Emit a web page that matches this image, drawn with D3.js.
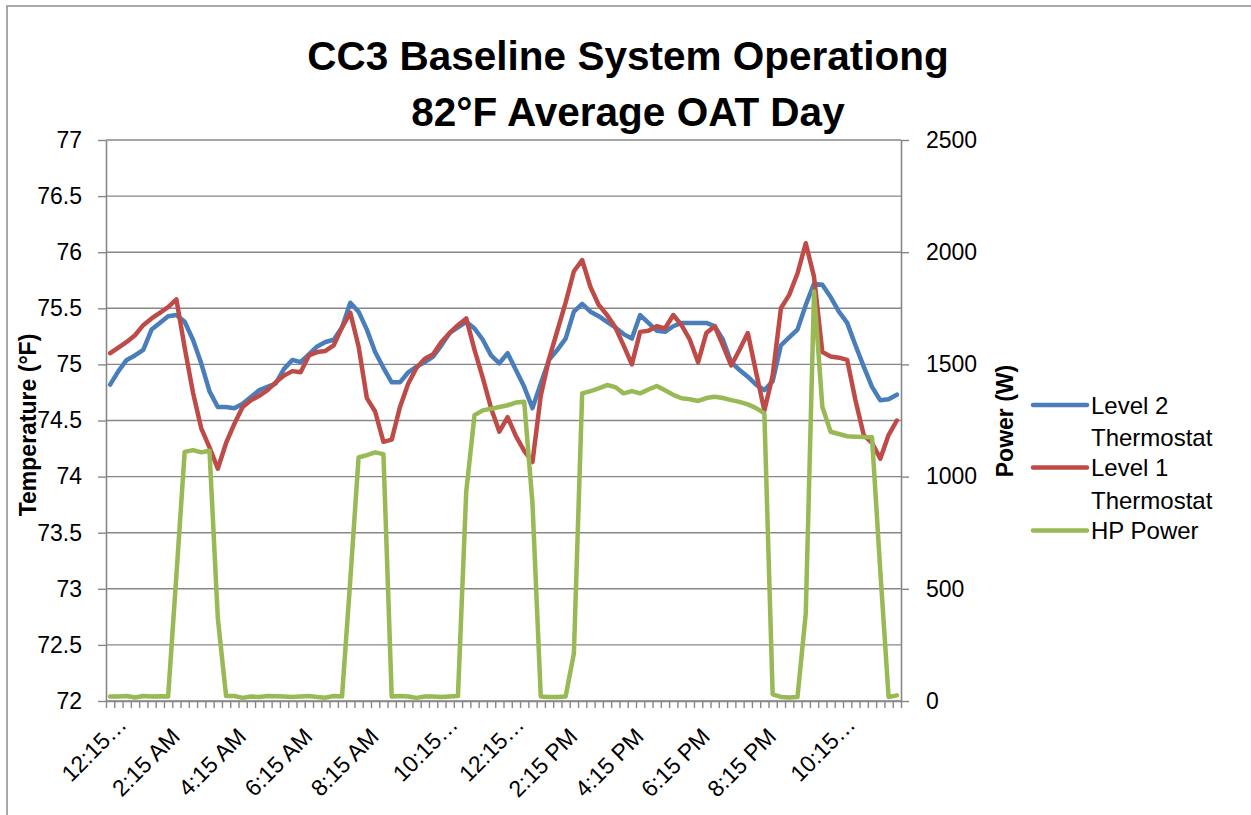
<!DOCTYPE html>
<html>
<head>
<meta charset="utf-8">
<script src="https://cdn.jsdelivr.net/npm/d3@7"></script>
<style>
  body { margin: 0; background: #fff; }
  text { font-family: "Liberation Sans", Arial, sans-serif; fill: #000; }
</style>
</head>
<body>
<div id="chart"></div>
<script>
// ---- DATA -----------------------
// 15 minute readings, 12:15 AM .. 12:00 AM
var times = d3.range(96).map(i => d3.timeFormat("%-I:%M %p")(new Date(2000, 0, 1, 0, 15 + 15 * i)));

var labelCats = ["12:15 AM", "2:15 AM", "4:15 AM", "6:15 AM", "8:15 AM", "10:15 AM",
                 "12:15 PM", "2:15 PM", "4:15 PM", "6:15 PM", "8:15 PM", "10:15 PM"];
var labelTexts = ["12:15…", "2:15 AM", "4:15 AM", "6:15 AM", "8:15 AM", "10:15…",
                  "12:15…", "2:15 PM", "4:15 PM", "6:15 PM", "8:15 PM", "10:15…"];

var tempTicks = [72, 72.5, 73, 73.5, 74, 74.5, 75, 75.5, 76, 76.5, 77];
var powerTicks = [0, 500, 1000, 1500, 2000, 2500];

var level2 = [74.82, 74.94, 75.04, 75.08, 75.13, 75.31, 75.37, 75.43, 75.44, 75.38,
              75.22, 75.01, 74.76, 74.62, 74.62, 74.61, 74.65, 74.71, 74.77, 74.80,
              74.83, 74.96, 75.04, 75.02, 75.09, 75.16, 75.20, 75.22, 75.33, 75.55,
              75.47, 75.31, 75.11, 74.97, 74.84, 74.84, 74.93, 74.98, 75.02, 75.07,
              75.17, 75.28, 75.33, 75.38, 75.32, 75.22, 75.08, 75.01, 75.10, 74.95,
              74.80, 74.61, 74.83, 75.04, 75.13, 75.23, 75.47, 75.54, 75.47, 75.43,
              75.38, 75.33, 75.27, 75.23, 75.44, 75.37, 75.30, 75.29, 75.34, 75.37,
              75.37, 75.37, 75.37, 75.34, 75.22, 75.02, 74.95, 74.89, 74.82, 74.77,
              74.85, 75.17, 75.24, 75.31, 75.53, 75.72, 75.71, 75.60, 75.47, 75.37,
              75.17, 74.98, 74.80, 74.68, 74.69, 74.73];

var level1 = [75.10, 75.15, 75.20, 75.26, 75.35, 75.41, 75.46, 75.51, 75.58, 75.15,
              74.75, 74.43, 74.26, 74.07, 74.30, 74.47, 74.62, 74.68, 74.72, 74.77,
              74.84, 74.90, 74.94, 74.93, 75.08, 75.11, 75.12, 75.17, 75.33, 75.46,
              75.16, 74.70, 74.58, 74.31, 74.33, 74.62, 74.83, 74.97, 75.05, 75.09,
              75.20, 75.28, 75.35, 75.41, 75.13, 74.88, 74.61, 74.40, 74.53, 74.36,
              74.23, 74.13, 74.72, 75.05, 75.30, 75.55, 75.83, 75.93, 75.69, 75.53,
              75.44, 75.33, 75.17, 75.00, 75.29, 75.30, 75.34, 75.32, 75.44, 75.35,
              75.22, 75.02, 75.28, 75.34, 75.17, 74.99, 75.13, 75.28, 74.93, 74.59,
              74.90, 75.50, 75.62, 75.81, 76.08, 75.78, 75.11, 75.07, 75.06, 75.04,
              74.68, 74.37, 74.30, 74.16, 74.37, 74.50];

var hpPower = [20, 20, 22, 16, 22, 20, 21, 20, 560, 1110,
               1118, 1108, 1115, 370, 22, 22, 14, 20, 18, 22,
               21, 20, 18, 20, 22, 18, 15, 22, 20, 540,
               1085, 1096, 1108, 1100, 20, 22, 20, 14, 20, 20,
               18, 20, 22, 933, 1274, 1295, 1302, 1310, 1318, 1330,
               1334, 880, 20, 18, 18, 20, 212, 1371, 1381, 1393,
               1408, 1399, 1371, 1381, 1371, 1388, 1404, 1385, 1364, 1349,
               1345, 1337, 1350, 1356, 1350, 1341, 1333, 1322, 1305, 1282,
               30, 18, 16, 18, 390, 1825, 1311, 1200, 1190, 1180,
               1178, 1176, 1175, 580, 18, 25];

var series = [
    { name: ["Level 2", "Thermostat"], values: level2, color: "#4a7ebb", axis: "temp" },
    { name: ["Level 1", "Thermostat"], values: level1, color: "#be4b48", axis: "temp" },
    { name: ["HP Power"], values: hpPower, color: "#98b954", axis: "power" }
];

// ---- LAYOUT -----------------------
var W = 1251, H = 815;
var plotL = 106, plotR = 901, plotT = 140, plotB = 701;
var gridColor = "#878787";

var svg = d3.select("#chart").append("svg")
    .attr("width", W)
    .attr("height", H);

svg.append("rect").attr("width", W).attr("height", H).attr("fill", "#fff");

// chart frame
svg.append("rect")
    .attr("x", 7).attr("y", 6)
    .attr("width", W).attr("height", H)
    .attr("fill", "none")
    .attr("stroke", "#8c8c8c")
    .attr("stroke-width", 1.5);

var x = d3.scaleBand().domain(times).range([plotL, plotR]);
var xc = d => x(d) + x.bandwidth() / 2;
var xEdge = d3.scaleLinear().domain([0, times.length]).range([plotL, plotR]);

var yT = d3.scaleLinear().domain([72, 77]).range([plotB, plotT]);
var yP = d3.scaleLinear().domain([0, 2500]).range([plotB, plotT]);

// ---- gridlines -----------------
svg.append("g").selectAll("line")
    .data(tempTicks)
    .enter().append("line")
    .attr("x1", plotL).attr("x2", plotR)
    .attr("y1", d => yT(d)).attr("y2", d => yT(d))
    .attr("stroke", gridColor)
    .attr("stroke-width", 1.4);

// ---- axes -----------------
var axisL = svg.append("g")
    .attr("transform", "translate(" + plotL + ",0)")
    .call(d3.axisLeft(yT).tickValues(tempTicks).tickSizeInner(8).tickSizeOuter(0)
        .tickPadding(16).tickFormat(d => +d.toFixed(1)));

var axisR = svg.append("g")
    .attr("transform", "translate(" + plotR + ",0)")
    .call(d3.axisRight(yP).tickValues(powerTicks).tickSizeInner(8).tickSizeOuter(0)
        .tickPadding(17).tickFormat(d => d));

var axisB = svg.append("g")
    .attr("transform", "translate(0," + plotB + ")")
    .call(d3.axisBottom(xEdge).tickValues(d3.range(times.length + 1)).tickSizeInner(7)
        .tickSizeOuter(0).tickFormat(""));

[axisL, axisR, axisB].forEach(a => {
    a.select(".domain").attr("stroke", gridColor).attr("stroke-width", 1.6);
    a.selectAll(".tick line").attr("stroke", gridColor).attr("stroke-width", 1.4);
    a.selectAll(".tick text").style("font-size", "23px").attr("fill", "#000");
});

// category labels (truncated ones sit a bit further along the diagonal)
svg.append("g").selectAll("text")
    .data(labelCats)
    .enter().append("text")
    .attr("transform", (d, i) => {
        var cut = labelTexts[i].endsWith("…");
        return "translate(" + (xc(d) + (cut ? 18 : 5)) + "," + (cut ? 726 : 738) + ") rotate(-45)";
    })
    .attr("text-anchor", "end")
    .style("font-size", "23px")
    .text((d, i) => labelTexts[i]);

// ---- lines -----------------
var lineT = d3.line().x((d, i) => xc(times[i])).y(d => yT(d));
var lineP = d3.line().x((d, i) => xc(times[i])).y(d => yP(d));

series.forEach(s => {
    svg.append("path")
        .datum(s.values)
        .attr("d", s.axis == "temp" ? lineT : lineP)
        .attr("fill", "none")
        .attr("stroke", s.color)
        .attr("stroke-width", 4.5)
        .attr("stroke-linejoin", "round")
        .attr("stroke-linecap", "round");
});

// ---- titles -----------------
svg.append("text")
    .attr("x", 628).attr("y", 70)
    .attr("text-anchor", "middle")
    .style("font-size", "40.5px").style("font-weight", "bold")
    .text("CC3 Baseline System Operationg");

svg.append("text")
    .attr("x", 628).attr("y", 126)
    .attr("text-anchor", "middle")
    .style("font-size", "40.5px").style("font-weight", "bold")
    .text("82°F Average OAT Day");

svg.append("text")
    .attr("transform", "translate(36,425) rotate(-90)")
    .attr("text-anchor", "middle")
    .style("font-size", "23px").style("font-weight", "bold")
    .text("Temperature (°F)");

svg.append("text")
    .attr("transform", "translate(1013,421) rotate(-90)")
    .attr("text-anchor", "middle")
    .style("font-size", "23px").style("font-weight", "bold")
    .text("Power (W)");

// ---- legend -----------------
var legendY = [405, 467.5, 530.5];
var legend = svg.append("g");
series.forEach((s, k) => {
    legend.append("line")
        .attr("x1", 1033).attr("x2", 1087)
        .attr("y1", legendY[k]).attr("y2", legendY[k])
        .attr("stroke", s.color)
        .attr("stroke-width", 4.5)
        .attr("stroke-linecap", "round");
    s.name.forEach((t, j) => {
        legend.append("text")
            .attr("x", 1091)
            .attr("y", legendY[k] + 8.5 + j * 32.5)
            .style("font-size", "24px")
            .text(t);
    });
});
</script>
</body>
</html>
